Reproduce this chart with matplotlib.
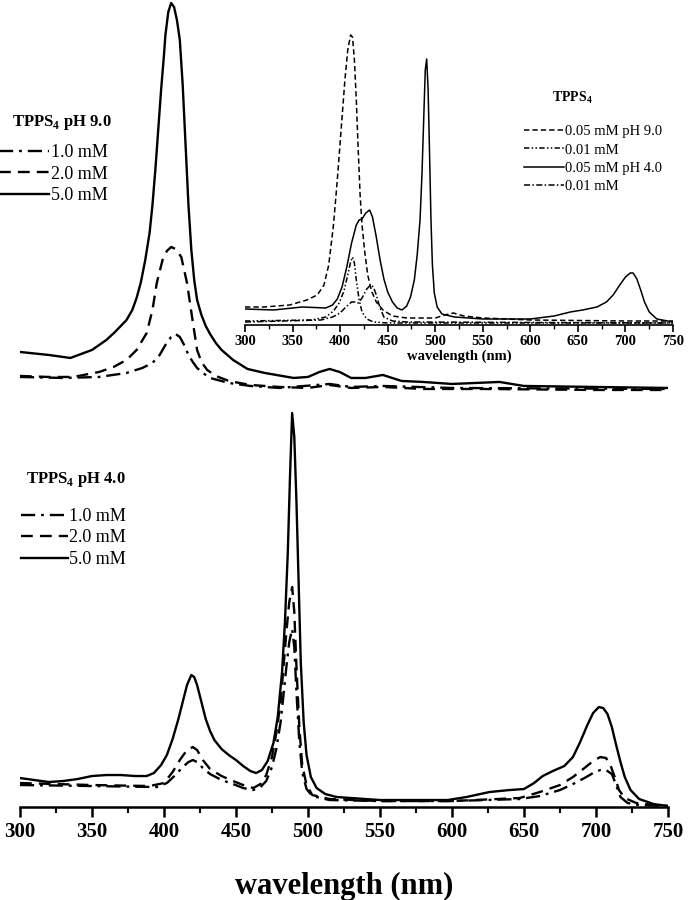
import matplotlib
matplotlib.use("Agg")
import matplotlib.pyplot as plt
from matplotlib.ticker import MultipleLocator

plt.rcParams["font.family"] = ["Liberation Serif", "DejaVu Serif"]
plt.rcParams["mathtext.fontset"] = "custom"
plt.rcParams["mathtext.rm"] = "Liberation Serif"
plt.rcParams["mathtext.bf"] = "Liberation Serif:bold"

# ---- top panel: TPPS4 pH 9.0 ----
wl_9_5 = [300, 320, 335, 350, 360, 366, 370, 374, 378, 381, 384, 387, 390, 392,
          394, 396, 398, 400, 401, 403, 405, 407, 409, 411, 413, 415, 417, 419,
          421, 423, 426, 429, 432, 436, 440, 448, 458, 470, 490, 500, 508, 515,
          522, 530, 540, 552, 565, 580, 600, 633, 650, 700, 750]
ab_9_5 = [0.48, 0.45, 0.42, 0.50, 0.60, 0.68, 0.74, 0.80, 0.90, 1.02, 1.18, 1.40,
          1.67, 1.95, 2.30, 2.70, 3.10, 3.45, 3.65, 3.88, 3.97, 3.93, 3.80, 3.60,
          3.15, 2.55, 1.95, 1.50, 1.20, 1.00, 0.85, 0.74, 0.66, 0.57, 0.50, 0.40,
          0.31, 0.27, 0.22, 0.23, 0.28, 0.31, 0.28, 0.22, 0.22, 0.25, 0.19, 0.18,
          0.16, 0.18, 0.14, 0.13, 0.12]
wl_9_2 = [300, 320, 337, 355, 365, 374, 381, 388, 392, 395, 399, 402, 405, 408,
          412, 416, 419.5, 423, 426, 430, 436, 445, 460, 480, 500, 515, 530, 552,
          580, 620, 700, 750]
ab_9_2 = [0.24, 0.23, 0.23, 0.28, 0.33, 0.40, 0.50, 0.67, 0.90, 1.17, 1.40, 1.49,
          1.53, 1.51, 1.43, 1.17, 0.83, 0.50, 0.38, 0.30, 0.24, 0.19, 0.15, 0.13,
          0.12, 0.15, 0.12, 0.13, 0.11, 0.11, 0.10, 0.10]
wl_9_1 = [300, 330, 355, 374, 385, 392, 397, 401, 405, 408, 411, 414, 417, 420,
          423, 427, 432, 445, 460, 480, 515, 530, 552, 600, 750]
ab_9_1 = [0.23, 0.22, 0.23, 0.27, 0.32, 0.37, 0.45, 0.55, 0.63, 0.66, 0.63, 0.55,
          0.45, 0.38, 0.32, 0.27, 0.22, 0.17, 0.14, 0.12, 0.16, 0.13, 0.14, 0.12,
          0.11]

# ---- bottom panel: TPPS4 pH 4.0 ----
wl_4_5 = [300, 310, 320, 330, 340, 350, 360, 370, 380, 388, 393, 398, 402, 406,
          410, 413, 416, 419, 421, 423, 426, 429, 432, 435, 440, 445, 450, 455,
          460, 464, 468, 472, 476, 479, 482, 484, 486, 487.5, 489, 490.5, 492,
          493.5, 495, 497, 499, 502, 506, 512, 520, 550, 597, 610, 626, 640, 650,
          657, 663, 670, 678, 684, 689, 694, 698, 702, 705, 708, 711, 714, 717,
          720, 724, 730, 740, 750]
ab_4_5 = [0.29, 0.27, 0.25, 0.26, 0.28, 0.31, 0.32, 0.32, 0.31, 0.31, 0.34, 0.42,
          0.52, 0.68, 0.88, 1.05, 1.22, 1.32, 1.30, 1.22, 1.05, 0.88, 0.76, 0.67,
          0.58, 0.52, 0.47, 0.41, 0.36, 0.34, 0.37, 0.46, 0.64, 0.90, 1.35, 1.85,
          2.55, 3.30, 3.94, 3.70, 3.05, 2.25, 1.45, 0.85, 0.52, 0.30, 0.19, 0.13,
          0.10, 0.07, 0.07, 0.10, 0.15, 0.17, 0.18, 0.24, 0.31, 0.36, 0.41, 0.50,
          0.65, 0.82, 0.94, 1.00, 0.99, 0.93, 0.80, 0.62, 0.45, 0.30, 0.17, 0.08,
          0.03, 0.01]
wl_4_2 = [300, 350, 390, 400, 406, 411, 416, 420, 423, 427, 432, 440, 448, 455,
          462, 467, 471, 475, 478, 481, 483, 485, 487, 489, 490.5, 492, 494, 496,
          499, 503, 515, 550, 600, 647, 661, 675, 684, 692, 698, 703, 707, 710,
          713, 716, 720, 728, 740, 750]
ab_4_2 = [0.24, 0.22, 0.21, 0.24, 0.35, 0.47, 0.57, 0.60, 0.57, 0.47, 0.38, 0.31,
          0.26, 0.22, 0.19, 0.23, 0.32, 0.50, 0.74, 1.05, 1.40, 1.75, 2.05, 2.20,
          1.95, 1.40, 0.80, 0.42, 0.22, 0.12, 0.08, 0.06, 0.06, 0.09, 0.15, 0.22,
          0.30, 0.39, 0.46, 0.50, 0.49, 0.42, 0.30, 0.17, 0.09, 0.04, 0.02, 0.01]
wl_4_1 = [300, 350, 395, 402, 408, 413, 417, 420, 423, 427, 432, 440, 448, 455,
          462, 467, 471, 475, 478, 481, 483, 485, 487, 489, 490.5, 492, 494, 496,
          499, 503, 515, 550, 600, 647, 661, 675, 684, 692, 698, 703, 707, 711,
          714, 717, 722, 730, 750]
ab_4_1 = [0.22, 0.21, 0.20, 0.24, 0.32, 0.40, 0.45, 0.47, 0.45, 0.39, 0.33, 0.27,
          0.23, 0.19, 0.17, 0.20, 0.26, 0.40, 0.58, 0.85, 1.12, 1.40, 1.65, 1.78,
          1.60, 1.15, 0.65, 0.35, 0.18, 0.11, 0.07, 0.06, 0.06, 0.08, 0.11, 0.17,
          0.23, 0.29, 0.34, 0.37, 0.37, 0.33, 0.22, 0.10, 0.04, 0.02, 0.01]

# ---- inset: dilute solutions ----
wl_i_9a = [300, 320, 347, 365, 376, 383, 388, 393, 397, 401, 405, 408, 411, 413,
           415, 417, 419, 421, 423, 426, 429, 433, 438, 445, 455, 470, 500, 510,
           519, 530, 550, 600, 700, 750]
ab_i_9a = [0.18, 0.18, 0.20, 0.25, 0.30, 0.40, 0.60, 1.00, 1.45, 1.95, 2.45, 2.75,
           2.90, 2.88, 2.65, 2.25, 1.75, 1.30, 1.00, 0.72, 0.50, 0.34, 0.23, 0.15,
           0.09, 0.07, 0.07, 0.10, 0.12, 0.09, 0.07, 0.05, 0.04, 0.04]
wl_i_9b = [300, 370, 385, 393, 399, 404, 408, 411, 413, 415, 417, 420, 423, 428,
           435, 450, 750]
ab_i_9b = [0.04, 0.05, 0.08, 0.14, 0.22, 0.34, 0.50, 0.63, 0.68, 0.62, 0.45, 0.25,
           0.13, 0.06, 0.03, 0.02, 0.02]
wl_i_4a = [300, 330, 360, 385, 392, 397, 402, 407, 412, 417, 420, 423, 427, 431,
           434, 438, 442, 446, 450, 455, 460, 465, 470, 474, 478, 481, 484, 486,
           488, 489.5, 491, 492.5, 494, 495.5, 497, 499, 502, 507, 520, 550, 600,
           625, 642, 655, 670, 680, 687, 694, 700, 705, 708, 712, 716, 720, 725,
           733, 750]
ab_i_4a = [0.16, 0.15, 0.18, 0.17, 0.20, 0.26, 0.38, 0.58, 0.82, 1.00, 1.05, 1.06,
           1.12, 1.15, 1.08, 0.88, 0.65, 0.46, 0.33, 0.23, 0.17, 0.15, 0.19, 0.28,
           0.45, 0.70, 1.05, 1.50, 2.10, 2.55, 2.66, 2.35, 1.72, 1.05, 0.60, 0.32,
           0.18, 0.11, 0.08, 0.06, 0.06, 0.09, 0.13, 0.15, 0.18, 0.23, 0.30, 0.40,
           0.48, 0.52, 0.52, 0.46, 0.35, 0.23, 0.13, 0.06, 0.03]
wl_i_4b = [300, 380, 392, 400, 406, 412, 416, 419, 423, 428, 432, 435, 438, 442,
           446, 455, 470, 750]
ab_i_4b = [0.03, 0.05, 0.08, 0.12, 0.18, 0.23, 0.23, 0.22, 0.27, 0.36, 0.40, 0.38,
           0.30, 0.17, 0.08, 0.04, 0.03, 0.02]

labels_main = ["1.0 mM", "2.0 mM", "5.0 mM"]
labels_inset = ["0.05 mM pH 9.0", "0.01 mM", "0.05 mM pH 4.0", "0.01 mM"]

dashdot = (0, (6, 2.5, 1.2, 2.5))
dashed = (0, (5, 3))
lw = 1.7

fig = plt.figure(figsize=(6.91, 9.0), dpi=100)
ax_top = fig.add_axes([0.0289, 0.5556, 0.9378, 0.4444])
ax_bot = fig.add_axes([0.0289, 0.1033, 0.9378, 0.4522])
ax_in = fig.add_axes([0.3546, 0.6389, 0.6194, 0.3333])

for ax in (ax_top, ax_bot, ax_in):
    ax.set_xlim(300, 750)
    ax.patch.set_alpha(0)
    for side in ("top", "left", "right"):
        ax.spines[side].set_visible(False)
    ax.set_yticks([])

ax_top.spines["bottom"].set_visible(False)
ax_top.set_xticks([])
ax_top.set_ylim(0, 4.0)
ax_bot.set_ylim(0, 4.07)
ax_in.set_ylim(0, 3.0)

# top panel
l1, = ax_top.plot(wl_9_1, ab_9_1, color="black", lw=lw, linestyle=dashdot)
l2, = ax_top.plot(wl_9_2, ab_9_2, color="black", lw=lw, linestyle=dashed)
l3, = ax_top.plot(wl_9_5, ab_9_5, color="black", lw=lw, linestyle="-")
ax_top.text(-0.012, 0.6925, r"TPPS$_{\mathbf{4}}$ pH 9.0", transform=ax_top.transAxes,
            fontsize=12, fontweight="bold", ha="left", va="center")
ax_top.legend([l1, l2, l3], labels_main, loc="upper left",
              bbox_to_anchor=(-0.057, 0.68), frameon=False, fontsize=13,
              handlelength=2.75, handletextpad=0.1, labelspacing=0.25)

# bottom panel
b1, = ax_bot.plot(wl_4_1, ab_4_1, color="black", lw=lw, linestyle=dashdot)
b2, = ax_bot.plot(wl_4_2, ab_4_2, color="black", lw=lw, linestyle=dashed)
b3, = ax_bot.plot(wl_4_5, ab_4_5, color="black", lw=lw, linestyle="-")
ax_bot.text(0.01, 0.805, r"TPPS$_{\mathbf{4}}$ pH 4.0", transform=ax_bot.transAxes,
            fontsize=12, fontweight="bold", ha="left", va="center")
ax_bot.legend([b1, b2, b3], labels_main, loc="upper left",
              bbox_to_anchor=(-0.024, 0.775), frameon=False, fontsize=13,
              handlelength=2.6, handletextpad=0.1, labelspacing=0.25)

ax_bot.spines["bottom"].set_linewidth(1.8)
ax_bot.xaxis.set_major_locator(MultipleLocator(50))
ax_bot.xaxis.set_minor_locator(MultipleLocator(25))
ax_bot.tick_params(axis="x", which="major", direction="out", length=7, width=1.8,
                   labelsize=15, pad=4)
ax_bot.tick_params(axis="x", which="minor", direction="out", length=4, width=1.5)
for t in ax_bot.get_xticklabels():
    t.set_fontweight("bold")
ax_bot.set_xlabel("wavelength (nm)", fontsize=22, fontweight="bold", labelpad=21)

# inset
i1, = ax_in.plot(wl_i_9a, ab_i_9a, color="black", lw=1.1, linestyle=(0, (3.5, 2)))
i2, = ax_in.plot(wl_i_9b, ab_i_9b, color="black", lw=1.1,
                 linestyle=(0, (3.5, 1.5, 1, 1.5, 1, 1.5)))
i3, = ax_in.plot(wl_i_4a, ab_i_4a, color="black", lw=1.1, linestyle="-")
i4, = ax_in.plot(wl_i_4b, ab_i_4b, color="black", lw=1.1,
                 linestyle=(0, (4, 1.5, 1, 1.5)))
ax_in.text(0.765, 0.757, r"TPPS$_{\mathbf{4}}$", transform=ax_in.transAxes,
           fontsize=10, fontweight="bold", ha="center", va="center")
ax_in.legend([i1, i2, i3, i4], labels_inset, loc="upper left",
             bbox_to_anchor=(0.62, 0.71), frameon=False, fontsize=10.5,
             handlelength=2.75, handletextpad=0.1, labelspacing=0.34)
ax_in.spines["bottom"].set_linewidth(1.2)
ax_in.xaxis.set_major_locator(MultipleLocator(50))
ax_in.xaxis.set_minor_locator(MultipleLocator(25))
ax_in.tick_params(axis="x", which="major", direction="out", length=5, width=1.2,
                  labelsize=10.5, pad=2)
ax_in.tick_params(axis="x", which="minor", direction="out", length=3, width=1)
for t in ax_in.get_xticklabels():
    t.set_fontweight("bold")
ax_in.set_xlabel("wavelength (nm)", fontsize=10.5, fontweight="bold", labelpad=1)

plt.savefig("out.png", dpi=100)
